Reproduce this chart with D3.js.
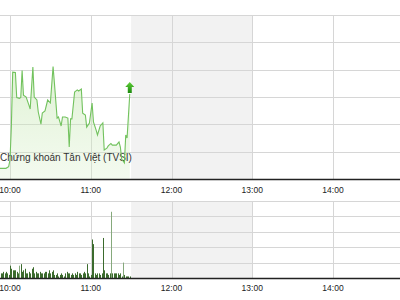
<!DOCTYPE html>
<meta charset="utf-8">
<style>
  body { margin: 0; background: #fff; }
  svg { display: block; font-family: "Liberation Sans", Arial, sans-serif; }
</style>
<script src="https://d3js.org/d3.v7.min.js"></script>
<div id="chart"></div>
<script>

// price ticks (time, index value)
var priceTimes = ["09:50","09:53","09:57","09:59","10:00","10:01","10:02","10:04","10:05","10:07",
  "10:08","10:09","10:10","10:12","10:14","10:15","10:17","10:18","10:20","10:21",
  "10:23","10:24","10:26","10:28","10:30","10:32","10:33","10:35","10:36","10:38",
  "10:39","10:41","10:43","10:44","10:45","10:46","10:48","10:50","10:51","10:53",
  "10:54","10:56","10:57","10:59","11:01","11:02","11:04","11:05","11:07","11:09",
  "11:10","11:12","11:13","11:15","11:16","11:19","11:21","11:22","11:23","11:24",
  "11:25","11:26","11:27","11:29"];
var priceValues = [478.38, 478.39, 478.39, 478.45, 478.70, 479.91, 481.91, 481.90, 480.98, 480.95,
  480.98, 481.97, 481.07, 481.00, 480.71, 480.56, 482.10, 481.00, 480.89, 480.45,
  480.01, 480.41, 480.49, 480.89, 480.78, 482.11, 481.51, 480.23, 480.27, 479.94,
  480.27, 480.27, 480.23, 479.17, 480.20, 480.20, 481.18, 481.26, 481.22, 481.29,
  480.41, 480.34, 479.90, 480.05, 480.78, 480.09, 479.79, 479.61, 479.94, 480.05,
  479.06, 479.13, 479.21, 479.30, 479.24, 479.24, 479.36, 479.17, 478.73, 478.66,
  478.59, 479.61, 479.50, 481.11];

// volume per minute, starting at volStart
var volStart = "09:53";
var volValues = [3,3,4,3,4,3,2,8,6,5, 5,5,4,3,8,9,4,5,6,3,
  3,4,3,6,7,3,4,3,3,4, 3,3,3,4,4,3,5,3,4,5,
  2,2,3,1,2,3,2,1,3,4, 3,3,2,3,2,3,2,4,3,3,
  2,3,4,3,9,3,1,2,25,22, 3,2,3,3,2,3,26,5,3,3,
  2,3,43,3,3,3,3,3,2,3, 1,10,2,1,1,1,1];
var volLight = ["10:07","11:15","11:24"];

var hourTicks = ["10:00","11:00","12:00","13:00","14:00"];
var lunchBreak = ["11:30","13:00"];
var title = "Chứng khoán Tân Việt (TVSI)";

var W = 400, H = 300;
var parse = d3.timeParse("%H:%M");
var fmt = d3.timeFormat("%H:%M");

var x = d3.scaleTime()
  .domain([parse("10:00"), parse("14:00")])
  .range([10, 333]);

var yP = d3.scaleLinear().domain([478, 484]).range([179, 15]);
var yV = d3.scaleLinear().domain([0, 50]).range([278, 201]);

var price = priceTimes.map(function(t, i) { return {t: parse(t), v: priceValues[i]}; });
var vs = parse(volStart);
var vol = volValues.map(function(v, i) {
  var t = d3.timeMinute.offset(vs, i);
  return {t: t, v: v, light: volLight.indexOf(fmt(t)) >= 0};
});

var svg = d3.select("#chart").append("svg")
  .attr("width", W).attr("height", H);

var defs = svg.append("defs");
var grad = defs.append("linearGradient")
  .attr("id", "fillGrad")
  .attr("gradientUnits", "userSpaceOnUse")
  .attr("x1", 0).attr("x2", 0).attr("y1", yP.range()[1]).attr("y2", yP.range()[0]);
grad.append("stop").attr("offset", "0%").attr("stop-color", "#b8e2a0").attr("stop-opacity", 0.65);
grad.append("stop").attr("offset", "100%").attr("stop-color", "#d8efca").attr("stop-opacity", 0.3);

var arrowGrad = defs.append("linearGradient")
  .attr("id", "arrowGrad").attr("x1", 0).attr("x2", 0).attr("y1", 0).attr("y2", 1);
arrowGrad.append("stop").attr("offset", "0%").attr("stop-color", "#5fcf38");
arrowGrad.append("stop").attr("offset", "100%").attr("stop-color", "#1c8a0e");

// draw one panel: shading + grid
function panel(y, ticks) {
  var g = svg.append("g");
  var top = y.range()[1], bot = y.range()[0];
  g.append("rect")
    .attr("x", x(parse(lunchBreak[0]))).attr("y", top)
    .attr("width", x(parse(lunchBreak[1])) - x(parse(lunchBreak[0])))
    .attr("height", bot - top)
    .attr("fill", "#f2f2f2");
  g.selectAll(".hg").data(ticks).enter().append("line")
    .attr("x1", 0).attr("x2", W)
    .attr("y1", function(d) { return Math.round(y(d)) + 0.5; })
    .attr("y2", function(d) { return Math.round(y(d)) + 0.5; })
    .attr("stroke", "#d6d6d6");
  g.selectAll(".vg").data(hourTicks).enter().append("line")
    .attr("x1", function(d) { return Math.round(x(parse(d))) + 0.5; })
    .attr("x2", function(d) { return Math.round(x(parse(d))) + 0.5; })
    .attr("y1", top).attr("y2", bot)
    .attr("stroke", "#d6d6d6");
  return g;
}

function axis(y, labelY) {
  var bot = y.range()[0];
  svg.append("line")
    .attr("x1", 0).attr("x2", W)
    .attr("y1", bot + 0.5).attr("y2", bot + 0.5)
    .attr("stroke", "#222").attr("stroke-width", 1.5);
  svg.append("g").selectAll("text").data(hourTicks).enter().append("text")
    .attr("x", function(d) { return x(parse(d)); })
    .attr("y", labelY)
    .attr("text-anchor", "middle")
    .attr("font-size", "8.5px")
    .attr("fill", "#222")
    .text(function(d) { return d; });
}

// price panel
panel(yP, yP.ticks(6).filter(function(d) { return d > 478; }));

svg.append("path")
  .datum(price)
  .attr("fill", "url(#fillGrad)")
  .attr("d", d3.area()
    .x(function(d) { return x(d.t); })
    .y0(yP.range()[0])
    .y1(function(d) { return yP(d.v); }));

svg.append("text")
  .attr("x", 0).attr("y", 161)
  .attr("font-size", "10px")
  .attr("fill", "#333")
  .text(title);

svg.append("path")
  .datum(price)
  .attr("fill", "none")
  .attr("stroke", "#72c25e")
  .attr("stroke-width", 1.1)
  .attr("d", d3.line()
    .x(function(d) { return x(d.t); })
    .y(function(d) { return yP(d.v); }));

// up arrow on last tick
var last = price[price.length - 1];
svg.append("path")
  .attr("transform", "translate(" + x(last.t) + "," + yP(last.v) + ")")
  .attr("d", "M0,-12 L4.5,-7 L2,-7 L2,-1 L-2,-1 L-2,-7 L-4.5,-7 Z")
  .attr("fill", "url(#arrowGrad)");

axis(yP, 193);

// volume panel
panel(yV, yV.ticks(5).filter(function(d) { return d > 0; }));

svg.append("g").selectAll("rect").data(vol).enter().append("rect")
  .attr("x", function(d) { return Math.round(x(d.t)); })
  .attr("width", 1)
  .attr("y", function(d) { return yV(d.v); })
  .attr("height", function(d) { return yV(0) - yV(d.v); })
  .attr("fill", function(d) { return d.light ? "#86a97c" : "#3b6b2d"; });

axis(yV, 291);

</script>
